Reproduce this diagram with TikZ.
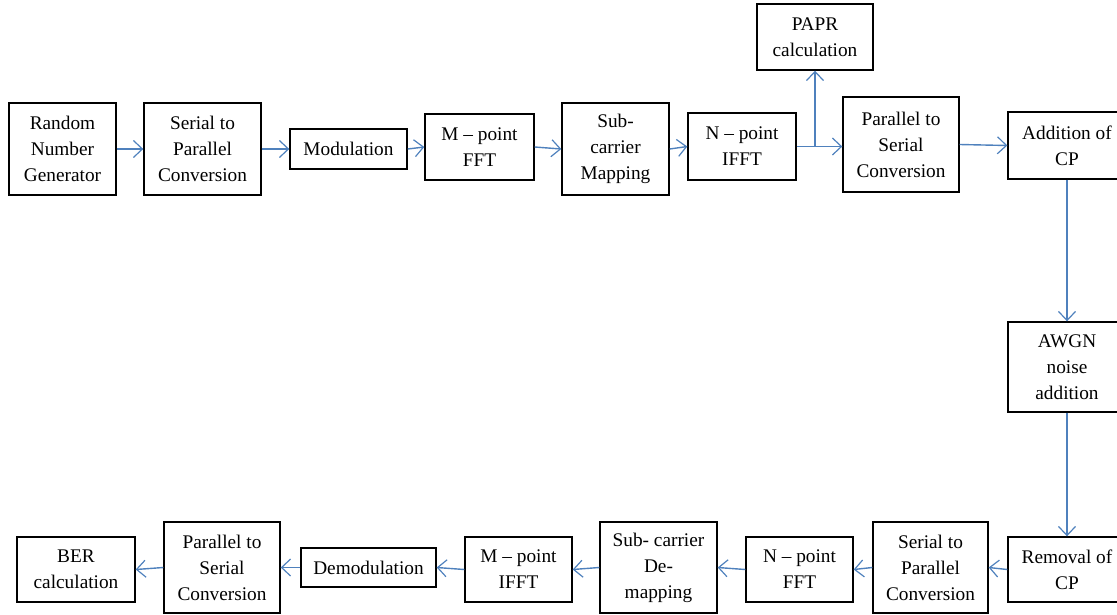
\documentclass[tikz,border=0pt]{standalone}
\usepackage{fontspec}
\setmainfont{Liberation Serif}
\newfontfamily\blockfont{Liberation Serif}
\usetikzlibrary{arrows.meta}
\definecolor{flow}{RGB}{79,129,189}
\begin{document}
\begin{tikzpicture}[x=1pt,y=-1pt,
  blk/.style={draw=black, line width=1.4pt, fill=white, inner sep=0pt, align=center,
    font=\blockfont\fontsize{19.3}{26}\selectfont},
  link/.style={draw=flow, line width=1.4pt, -{Straight Barb[length=9pt,width=17pt,line width=1.2pt]}}]
\useasboundingbox (0,0) rectangle (1117,614);

% transmitter chain (top row)
\node[blk, minimum width=107pt, minimum height=92pt] (rng)  at (62.5,149)  {Random\\Number\\Generator};
\node[blk, minimum width=117pt, minimum height=92pt] (s2p)  at (202.5,149) {Serial to\\Parallel\\Conversion};
\node[blk, minimum width=117pt, minimum height=40pt] (mod)  at (348.5,149) {Modulation};
\node[blk, minimum width=109pt, minimum height=66pt] (mfft) at (479.5,147) {M – point\\FFT};
\node[blk, minimum width=107pt, minimum height=92pt] (scm)  at (615.5,149) {Sub-\\carrier\\Mapping};
\node[blk, minimum width=108pt, minimum height=67pt] (ifft) at (742,146.5) {N – point\\IFFT};
\node[blk, minimum width=116pt, minimum height=66pt] (papr) at (815,37)    {PAPR\\calculation};
\node[blk, minimum width=116pt, minimum height=95pt] (p2s)  at (901,144.5) {Parallel to\\Serial\\Conversion};
\node[blk, minimum width=118pt, minimum height=67pt] (acp)  at (1067,145.5) {Addition of\\CP};

% channel
\node[blk, minimum width=118pt, minimum height=90pt] (awgn) at (1067,367) {AWGN\\noise\\addition};

% receiver chain (bottom row)
\node[blk, minimum width=118pt, minimum height=65pt] (rcp)   at (1067,569.5) {Removal of\\CP};
\node[blk, minimum width=115pt, minimum height=91pt] (s2pb)  at (930.5,567.5) {Serial to\\Parallel\\Conversion};
\node[blk, minimum width=107pt, minimum height=65pt] (nfft)  at (799.5,569.5) {N – point\\FFT};
\node[blk, minimum width=117pt, minimum height=91pt] (scd)   at (658.5,567.5) {Sub- carrier\\De-\\mapping};
\node[blk, minimum width=107pt, minimum height=65pt] (mifft) at (518.5,569.5) {M – point\\IFFT};
\node[blk, minimum width=135pt, minimum height=39pt] (demod) at (368.5,567.5) {Demodulation};
\node[blk, minimum width=116pt, minimum height=91pt] (p2sb)  at (222,567.5)   {Parallel to\\Serial\\Conversion};
\node[blk, minimum width=118pt, minimum height=65pt] (ber)   at (76,569.5)    {BER\\calculation};

% top row connectors
\draw[link] (rng.east) -- (s2p.west);
\draw[link] (s2p.east) -- (mod.west);
\draw[link] (mod.east) -- (mfft.west);
\draw[link] (mfft.east) -- (scm.west);
\draw[link] (scm.east) -- (ifft.west);
\coordinate (tap) at (ifft.east -| papr.south);
\draw[link] (ifft.east) -- (ifft.east -| p2s.west);
\draw[link] (tap) -- (papr.south);
\draw[link] (p2s.east) -- (acp.west);

% down the right side
\draw[link] (acp.south) -- (awgn.north);
\draw[link] (awgn.south) -- (rcp.north);

% bottom row connectors
\draw[link] (rcp.west) -- (s2pb.east);
\draw[link] (s2pb.west) -- (nfft.east);
\draw[link] (nfft.west) -- (scd.east);
\draw[link] (scd.west) -- (mifft.east);
\draw[link] (mifft.west) -- (demod.east);
\draw[link] (demod.west) -- (p2sb.east);
\draw[link] (p2sb.west) -- (ber.east);
\end{tikzpicture}
\end{document}
